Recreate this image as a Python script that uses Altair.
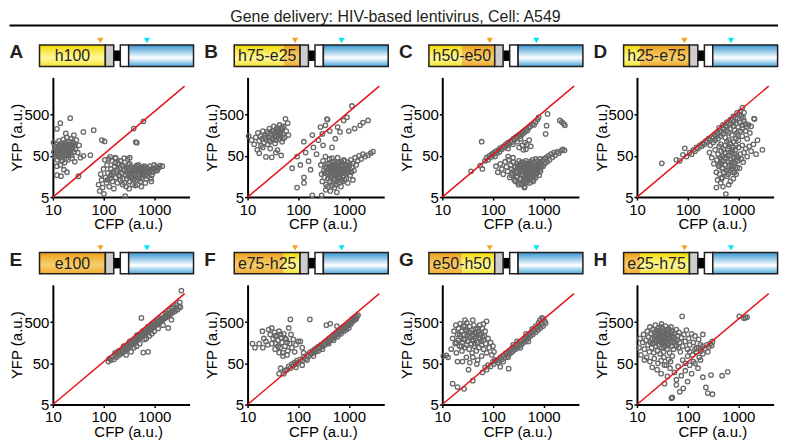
import altair as alt
import pandas as pd

TITLE = "Gene delivery: HIV-based lentivirus, Cell: A549"
letters = ["A", "B", "C", "D", "E", "F", "G", "H"]
constructs = ["h100", "h75-e25", "h50-e50", "h25-e75", "e100", "e75-h25", "e50-h50", "e25-h75"]
x_ticks = [10, 100, 1000]
y_ticks = [5, 50, 500]
line_x = [10, 4000]
line_y = [5, 2450]

A_pts = [[10.3,105],[10.5,62],[11,48],[11,85],[11.5,72],[11.8,55],[12,95],[12.2,40],[12.5,66],[12.8,80],[13,52],[13.2,115],[13.5,70],[13.8,45],[14,88],[14.2,60],[14.5,100],[14.8,75],[15,54],[15.3,38],[15.6,82],[16,65],[16.2,125],[16.5,92],[16.8,50],[17,72],[17.4,105],[17.8,60],[18,85],[18.4,44],[18.8,140],[19,68],[19.5,96],[20,78],[20.5,56],[21,112],[21.5,86],[22,66],[22.5,130],[23,95],[23.5,52],[24,76],[25,108],[26,62],[26.5,88],[28,72],[29,120],[31,60],[33,90],[14,30],[12,28],[17,34],[20,40],[24,44],[27,36],
         [13,58],[15,68],[16.5,78],[18.5,52],[19.5,84],[21,70],[22.5,60],[24.5,90],[15.5,47],[17.5,90],[12.5,50],[20,64],[23,82],[26,100],[13.5,88],
         [12,225],[14,310],[22,410],[40,190],[64,210],[93,120],[105,112],[55,52],[40,50],[32,16],[12,17],[14.5,16],[16.5,23],[19,20],[35,45],[26,160],[18,175],
         [80,10],[84,7],[88,18],[92,13],[96,8.5],[100,24],[102,6],[106,40],[110,15],[115,11],[118,30],[122,19],[126,42],[130,9],[135,14],[140,24],[145,38],[150,12],[155,18],[160,8],[165,28],[170,45],[175,15],[180,21],[188,11],[195,33],[200,17],[208,25],[215,13],[222,38],[230,19],[238,14],[245,28],[252,22],[260,11],[268,5.3],[275,17],[282,26],[290,14],[298,20],[305,31],[312,16],[320,23],[330,12],[338,19],[345,27],[355,15],[365,21],[375,10],[385,18],[395,25],[405,14],[418,22],[430,17],[445,29],[458,13],[470,20],[485,24],[500,16],[515,22],[530,12],[545,19],[560,27],[580,15],[600,21],[620,18],[645,24],[670,11],[690,20],[715,26],[740,16],[770,22],[800,19],[830,28],[860,14],[900,24],[950,20],[1000,30],[1050,22],[1100,27],[1180,25],[1300,29],[1450,28],[880,12],[560,9],[420,9.5],
         [210,16],[260,24],[310,18],[360,26],[410,19],[460,27],[510,14],[560,21],[610,25],[660,17],[710,22],[760,20],[820,23],[150,20],[190,23],[240,10],[280,9],[330,32],[380,13],[430,24],[490,30],[540,24],[590,17],[640,28],[700,14],[900,17],[1000,24],[1150,22],[1250,26],[120,13],[140,17],[170,33],[230,30],[320,8],[470,10],
         [395,230],[615,345],[455,104],[432,108],[135,47],[175,44],[255,44],[300,42],[215,38],[330,45]]

B_pts = [[10.5,150],[12,120],[13.5,95],[14.5,140],[15.5,70],[16,180],[17,115],[18,150],[18.5,88],[19.5,130],[20,200],[21,105],[22,160],[23,125],[23,47],[24,190],[25,95],[26,140],[27,230],[28,110],[29,170],[30,46],[31,130],[32,200],[33,260],[34,150],[35,100],[36,180],[37,120],[38,240],[39,69],[40,160],[41,210],[42,130],[43,280],[44,190],[45,150],[46,51],[47,230],[48,110],[50,170],[52,260],[54,140],[56,395],[58,200],[62,310],[64,160],[36,60],[28,75],[20,80],[17,58],
         [25,170],[30,200],[35,140],[40,220],[45,180],[50,130],[33,175],[38,150],[42,190],[48,250],[27,120],[22,140],
         [129,110],[95,48],[76,25],[160,37],[175,23],[275,250],[345,275],[370,390],[380,380],[790,360],[920,430],[1150,810],[1670,275],[2400,360],[670,190],[540,130],[465,80],[345,48],[465,44],[200,80],[230,55],[250,120],[300,170],[310,90],[420,200],[600,250],[1000,200],[1300,230],[1900,320],[140,60],[110,30],[190,160],
         [280,30],[290,18],[300,12],[310,38],[320,22],[330,15],[345,27],[355,10],[365,20],[375,32],[385,14],[395,24],[405,17],[415,42],[425,12],[435,28],[445,20],[455,15],[465,35],[475,22],[485,11],[495,18],[505,26],[515,14],[525,31],[540,20],[555,16],[570,24],[585,12],[600,29],[615,19],[630,22],[645,14],[660,33],[675,18],[690,25],[710,13],[730,21],[750,28],[770,16],[790,38],[815,23],[840,19],[865,30],[890,14],[920,25],[950,35],[985,20],[1020,28],[1060,17],[1100,40],[1150,26],[1200,33],[1260,22],[1330,45],[1400,30],[1500,38],[1600,50],[1750,42],[1900,55],[2100,48],[2400,52],[2700,58],[3000,63],[95,8.5],[130,15],[130,11],[190,5.5],[290,5.5],[430,7],[580,6.5],[520,8.5],[350,7.5],[700,9],[800,40],[600,45],[1200,13],[950,11],
         [400,20],[450,26],[500,22],[550,28],[600,18],[650,24],[700,20],[750,16],[800,25],[850,21],[900,19],[430,16],[480,29],[530,13],[580,19],[620,27],[680,15],[720,30],[780,22],[830,13],[880,28],[960,24],[1040,32],[1120,20],[360,25],[330,19],[410,33],[510,36],[610,34],[710,36],[560,10],[640,11],[760,12],[470,9.5],[380,9]]

C_pts = [[37,21],[56,29],[62,24],[60,110],[70,38],[75,45],[80,40],[85,50],[90,46],[95,55],[100,52],[105,60],[110,48],[115,65],[120,58],[130,70],[135,62],[140,78],[150,72],[160,85],[170,80],[180,95],[190,88],[200,105],[210,98],[225,115],[240,108],[255,130],[270,122],[285,145],[300,138],[320,160],[340,150],[360,175],[380,168],[400,195],[420,185],[450,215],[480,205],[510,240],[550,260],[600,290],[650,280],[700,330],[760,380],[800,430],[300,110],[250,95],[350,130],[200,75],
         [330,80],[380,90],[430,105],[470,95],[520,120],[560,85],[450,72],[400,70],
         [1200,520],[1150,270],[2100,360],[2300,330],[2500,300],[2650,275],[1100,170],
         [115,28],[125,20],[140,32],[150,24],[160,18],[175,36],[185,27],[195,21],[205,40],[215,15],[225,30],[235,24],[245,19],[255,35],[265,13],[275,27],[285,21],[295,32],[305,16],[315,25],[325,11],[335,29],[345,20],[355,14],[365,34],[375,23],[385,17],[395,28],[405,12],[415,22],[425,9],[435,31],[445,18],[455,26],[465,14],[475,21],[485,33],[495,16],[505,24],[515,19],[530,11],[545,28],[560,15],[575,22],[590,30],[605,17],[620,25],[640,13],[660,21],[680,28],[700,18],[720,24],[745,31],[770,20],[800,27],[830,35],[860,24],[900,30],[940,38],[980,28],[1020,42],[1070,33],[1120,45],[1180,36],[1250,50],[1320,40],[1400,55],[1500,46],[1600,60],[1700,52],[1850,62],[2000,58],[2200,66],[2400,72],[2600,68],[420,8.5],[380,10],[470,11.5],[330,38],[250,45],[200,48],[600,40],[700,42],
         [230,17],[260,22],[290,15],[310,28],[340,24],[360,18],[390,21],[410,26],[440,14],[460,23],[480,19],[510,29],[540,17],[570,26],[610,20],[650,16],[690,23],[730,19],[780,26],[820,17],[870,21],[920,27],[300,20],[350,31],[400,35],[450,38],[500,33],[550,36],[650,34],[750,37],[850,42],[280,12],[320,10],[360,11],[400,14],[480,12.5],[560,13],[620,12],[700,15],[480,27],[420,31],[520,14.5]]

D_pts = [[31,33],[60,40],[70,38],[81,53],[88,76],[95,48],[110,60],[120,55],[130,70],[140,65],[150,80],[160,75],[175,90],[190,85],[200,100],[215,95],[230,115],[245,108],[260,130],[280,120],[300,145],[320,135],[340,165],[360,150],[380,185],[400,170],[430,205],[460,190],[490,240],[520,220],[560,270],[600,250],[650,310],[700,290],[760,360],[820,340],[900,420],[980,400],[1050,500],[1150,460],[1210,740],[1100,600],[950,550],[800,450],[700,380],[1300,560],[1250,420],[600,330],[500,280],[420,240],
         [280,90],[320,105],[350,120],[400,130],[450,150],[500,170],[550,140],[600,200],[650,180],[700,230],[750,160],[800,260],[850,210],[900,300],[950,180],[1000,250],[1100,320],[1200,280],[1300,350],[1400,300],[1500,250],[1600,280],[1800,260],[2050,400],[2100,390],[2400,120],[3000,70],[1700,180],[1400,200],[1200,150],[1000,120],[800,110],[900,90],[1500,130],[650,120],
         [270,60],[300,45],[330,32],[350,70],[370,20],[380,40],[390,13],[400,55],[410,28],[420,85],[430,18],[440,45],[450,33],[460,65],[470,14],[480,25],[490,50],[500,38],[520,20],[540,60],[560,30],[570,5.9],[580,44],[600,16],[620,75],[640,35],[660,22],[680,52],[700,12],[720,40],[740,28],[760,62],[790,20],[820,45],[850,32],[880,70],[910,18],[940,50],[980,38],[1020,80],[1060,25],[1100,55],[1150,42],[1200,90],[1250,35],[1300,60],[1400,75],[1500,48],[1650,85],[1800,65],[2000,95],[2250,55],[370,8.5],[500,9],[650,10],[450,11],[800,14],
         [420,30],[460,40],[500,25],[540,45],[580,22],[620,50],[660,30],[700,60],[740,24],[780,35],[820,28],[860,55],[900,40],[950,26],[1000,45],[520,70],[560,90],[600,110],[700,100],[800,80],[900,130],[1000,160],[1100,200],[1200,230],[750,70],[650,85],[450,95],[480,15],[630,18],[850,20]]

E_pts = [[125,55],[130,65],[140,60],[150,72],[160,62],[170,80],[180,70],[190,88],[200,78],[210,95],[220,85],[230,105],[240,92],[250,110],[260,98],[270,120],[280,105],[290,130],[300,115],[310,140],[320,125],[335,150],[350,135],[365,160],[380,145],[395,175],[410,155],[425,190],[440,170],[455,205],[470,180],[485,220],[500,195],[520,240],[540,210],[560,255],[580,225],[600,270],[620,240],[645,290],[670,255],[700,310],[720,275],[750,330],[780,300],[810,360],[840,320],[870,390],[900,350],[940,420],[980,380],[1020,450],[1060,410],[1100,480],[1150,440],[1200,520],[1250,470],[1300,560],[1350,510],[1400,600],[1460,550],[1520,640],[1580,600],[1650,700],[1720,650],[1800,760],[1880,700],[1960,820],[2050,760],[2150,880],[2250,830],[2400,950],[2550,900],[2700,1050],[2900,1000],[3100,1200],[3300,1150],[3450,2900],[3200,1500],[2800,1300],[2500,1150],[610,91],[760,95],[2200,570],[1900,360],[560,630],[450,130],[520,150],[650,190],[800,230],[1000,300],[1200,350],[350,95],[280,80],[1500,420],[900,260],[400,120],[700,200],[1100,520],[1300,620],[1700,800],[2000,950],[2300,1100],[600,300],[750,380],[900,450],[460,240],[330,170],[250,130],[200,100],[170,90],
         [420,160],[480,190],[540,235],[600,250],[660,275],[720,300],[790,330],[860,365],[950,395],[1050,440],[1150,490],[1250,540],[1400,570],[1600,650],[1850,740]]

F_pts = [[42,28],[52,28],[55,33],[45,38],[60,35],[65,42],[70,38],[75,48],[80,44],[85,52],[90,48],[95,58],[100,52],[110,62],[120,58],[130,72],[140,65],[150,80],[160,74],[170,92],[180,84],[190,100],[200,90],[215,112],[230,102],[245,125],[260,115],[280,140],[300,128],[320,155],[340,142],[360,175],[380,160],[400,195],[425,180],[450,220],[475,200],[500,245],[530,225],[560,270],[590,250],[620,300],[650,280],[690,330],[730,310],[770,370],[810,345],[850,400],[900,380],[950,440],[1000,420],[1050,480],[1100,450],[1200,520],[1300,560],[1400,600],[1520,740],[1450,680],[1350,650],[1250,620],[1150,580],[500,180],[400,150],[300,110],[200,75],[600,220],[700,260],[800,300],[900,330],[1000,360],[120,45],[90,40],[150,60],[250,100],[360,420],[430,460],[580,400],[170,580],
         [220,95],[270,120],[330,140],[390,170],[460,195],[540,240],[620,270],[700,300],[790,350],[880,390],[980,430],[1100,500],
         [12.5,150],[14,120],[17,150],[19.6,300],[21,200],[23,170],[26,330],[28,250],[30,360],[32,200],[34,280],[36,150],[38,230],[40,180],[42,300],[44,120],[46,210],[48,160],[50,90],[52,260],[55,130],[58,190],[62,100],[65,360],[68,150],[70,580],[72,250],[75,120],[80,190],[85,95],[90,140],[100,170],[110,170],[120,120],[128,90],[42,91],[50,75],[60,80],[35,110],[25,140],
         [20,120],[30,150],[40,130],[55,200],[45,250],[35,230],[60,160]]

G_pts = [[10.5,75],[12,78],[13,70],[15,110],[16,200],[17,300],[18,150],[18.5,420],[19,90],[20,250],[20.5,180],[21,350],[22,130],[22.5,460],[23,220],[24,300],[24.5,100],[25,160],[26,400],[27,250],[27.5,120],[28,190],[29,330],[30,140],[30.5,480],[31,240],[32,170],[33,280],[34,110],[35,390],[36,210],[37,150],[38,320],[39,90],[40,250],[41,180],[42,420],[43,130],[44,280],[45,200],[46,340],[47,100],[48,230],[50,160],[52,300],[53,120],[55,420],[56,200],[58,260],[60,140],[62,350],[64,180],[66,110],[68,230],[70,300],[72,150],[75,90],[80,200],[85,120],[90,160],[95,80],[100,130],[105,95],[110,60],[60,75],[50,60],[40,70],[30,70],[25,55],[20,55],[35,52],[48,48],[65,450],[75,520],[28,560],[40,560],
         [22,250],[26,190],[30,300],[34,230],[38,180],[44,150],[50,350],[54,250],[58,170],[62,220],[19,160],[24,130],[28,400],[36,280],[46,260],
         [16,16],[20,13.3],[27,12],[40,19],[33,35],
         [62,30],[70,40],[75,35],[80,45],[90,42],[100,55],[105,48],[115,60],[125,52],[140,41],[140,70],[150,62],[160,78],[170,68],[180,88],[190,76],[200,95],[205,37],[210,84],[220,105],[230,92],[240,115],[250,100],[265,125],[280,110],[295,140],[310,120],[325,155],[340,135],[360,170],[380,150],[400,190],[420,165],[440,210],[460,185],[480,235],[500,205],[530,260],[560,230],[590,290],[620,255],[660,320],[700,285],[740,360],[780,320],[820,400],[870,360],[930,450],[980,400],[1050,520],[1100,470],[930,630],[850,560],[1000,600],[700,400],[600,340],[800,480],[450,260],[300,170],[250,140],[130,58],[160,55],[200,70],[350,120],[500,170]]

H_pts = [[11,120],[11.5,200],[12,80],[13,160],[13.5,250],[14,110],[15,180],[15.5,70],[16,300],[16.5,140],[17,220],[17.5,95],[18,380],[18.5,160],[19,260],[19.5,120],[20,200],[20.5,330],[21,150],[21.5,90],[22,280],[22.5,180],[23,420],[23.5,130],[24,240],[24.5,310],[25,170],[25.5,100],[26,210],[26.5,360],[27,140],[27.5,270],[28,190],[28.5,85],[29,320],[29.5,230],[30,160],[30.5,450],[31,120],[31.5,260],[32,200],[32.5,350],[33,150],[33.5,95],[34,290],[35,180],[35.5,230],[36,130],[36.5,400],[37,210],[38,160],[38.5,310],[39,110],[40,250],[41,190],[42,140],[42.5,340],[43,220],[44,90],[45,280],[46,170],[47,380],[48,130],[49,230],[50,300],[52,160],[53,110],[54,260],[56,200],[58,140],[60,330],[62,180],[64,230],[66,120],[68,280],[70,160],[72,95],[75,210],[78,690],[80,130],[85,250],[90,170],[95,320],[100,110],[105,200],[110,140],[120,260],[130,160],[140,230],[150,120],[165,190],[180,140],[200,250],[14,60],[18,55],[22,65],[26,50],[30,58],[34,70],[38,45],[42,62],[46,55],[50,75],
         [20,150],[24,180],[28,230],[32,170],[36,260],[40,150],[44,200],[48,300],[52,220],[56,160],[30,380],[26,290],[22,220],[40,330],[34,120],
         [20,40],[25,35],[30,28],[35,45],[40,24],[45,38],[48,7.1],[50,7.5],[55,30],[60,20],[65,42],[70,10.2],[75,25],[82,12.3],[90,33],[100,18],[110,45],[120,28],[140,50],[160,38],[180,60],[200,23],[230,13],[250,9.5],[290,26],[310,8.9],[480,25],[620,31],[35,16],[60,15],
         [60,130],[80,60],[100,75],[110,95],[125,80],[140,110],[150,95],[165,120],[180,100],[200,130],[220,115],[240,140],[260,125],[280,150],[300,135],[310,170],[250,95],[200,85],[170,70],[1050,690],[1300,620],[1400,640],[1500,660],[130,55],[90,50]]

panel_pts = [A_pts, B_pts, C_pts, D_pts, E_pts, F_pts, G_pts, H_pts]

FONT = "Liberation Sans"
INK = "#231f20"
W, H = 137, 120
# schematic vertical placement, pixels relative to the plot top
OFF = -40
BOX_Y0, BOX_Y1 = OFF + 7.5, OFF + 29
LINK_Y0, LINK_Y1 = OFF + 13, OFF + 23.5
TRI_Y = OFF + 3
LETTER_Y = OFF + 15

# construct schematic layout (construct units)
BOX_END = 66
GREY = (66, 74.4)
LINK = (74.4, 81)
WHITE = (81, 89.4)
BLUE = (89.4, 154.4)
TRI_ORANGE = 61
TRI_CYAN = 107.7
dscale = alt.Scale(domain=[0, 154.4], range=[-13.4, 141])


def grad(stops):
    return alt.Gradient(gradient="linear", x1=0, x2=0, y1=0, y2=1,
                        stops=[alt.GradientStop(offset=o, color=c) for o, c in stops])

YELLOW = grad([(0, "#f2da00"), (0.6, "#fff79e"), (1, "#f6e332")])
ORANGE = grad([(0, "#eda01a"), (0.6, "#f8cf6e"), (1, "#eeab2e")])
BLUEG = grad([(0, "#3595d1"), (0.6, "#ffffff"), (1, "#47a5db")])


def segs(name):
    parts = name.split("-")
    first = "y" if parts[0][0] == "h" else "o"
    pct = int(parts[0][1:])
    cut = BOX_END * pct / 100.0
    out = {"y": [], "o": []}
    out[first].append((0, cut))
    if pct < 100:
        out["o" if first == "y" else "y"].append((cut, BOX_END))
    return out


def rect_layer(a, b, y0, y1, **kw):
    df = pd.DataFrame({"a": [a], "b": [b]})
    return alt.Chart(df).mark_rect(**kw).encode(
        x=alt.X("a:Q", scale=dscale, axis=None), x2="b:Q",
        y=alt.value(y0), y2=alt.value(y1))


def diagram_layers(letter, name):
    layers = []
    s = segs(name)
    for a, b in s["y"]:
        layers.append(rect_layer(a, b, BOX_Y0, BOX_Y1, fill=YELLOW, strokeWidth=0))
    for a, b in s["o"]:
        layers.append(rect_layer(a, b, BOX_Y0, BOX_Y1, fill=ORANGE, strokeWidth=0))
    layers.append(rect_layer(0, BOX_END, BOX_Y0, BOX_Y1, fillOpacity=0, stroke=INK, strokeWidth=1.5))
    layers.append(rect_layer(LINK[0], LINK[1], LINK_Y0, LINK_Y1, fill="black", strokeWidth=0))
    layers.append(rect_layer(GREY[0], GREY[1], BOX_Y0, BOX_Y1, fill="#cdcdcd", stroke=INK, strokeWidth=1.5))
    layers.append(rect_layer(WHITE[0], WHITE[1], BOX_Y0, BOX_Y1, fill="white", stroke=INK, strokeWidth=1.5))
    layers.append(rect_layer(BLUE[0], BLUE[1], BOX_Y0, BOX_Y1, fill=BLUEG, stroke=INK, strokeWidth=1.5))
    tdf = pd.DataFrame({"c": [BOX_END / 2], "t": [name]})
    layers.append(alt.Chart(tdf).mark_text(font=FONT, fontSize=16, color=INK, baseline="middle").encode(
        x=alt.X("c:Q", scale=dscale, axis=None), y=alt.value((BOX_Y0 + BOX_Y1) / 2 + 0.5), text="t:N"))
    for pos, col in [(TRI_ORANGE, "#f5a31e"), (TRI_CYAN, "#00e5f0")]:
        pdf = pd.DataFrame({"p": [pos]})
        layers.append(alt.Chart(pdf).mark_point(shape="triangle-down", filled=True, color=col, size=38, opacity=1).encode(
            x=alt.X("p:Q", scale=dscale, axis=None), y=alt.value(TRI_Y)))
    ldf = pd.DataFrame({"l": [letter]})
    layers.append(alt.Chart(ldf).mark_text(font=FONT, fontSize=19, fontWeight="bold", color=INK, align="left").encode(
        x=alt.value(-43.5), y=alt.value(LETTER_Y), text="l:N"))
    return layers


def scatter_layers(pts):
    df = pd.DataFrame(pts, columns=["CFP", "YFP"])
    xs = alt.Scale(type="log", domain=[10, 5000], nice=False)
    ys = alt.Scale(type="log", domain=[5, 4000], nice=False)
    xa = alt.Axis(values=x_ticks, format="d", title="CFP (a.u.)", labelFlush=False, labelOverlap=False,
                  titleX=W / 2 + 7, titleY=20, titleBaseline="top", titleAlign="center",
                  tickSize=3, labelPadding=2, grid=False)
    ya = alt.Axis(values=y_ticks, format="d", title="YFP (a.u.)", labelOverlap=False, labelFlush=False,
                  titleX=-36, titleY=H / 2, titleAngle=270, titleBaseline="middle", titleAlign="center",
                  tickSize=3, labelPadding=1, grid=False)
    pts_layer = alt.Chart(df).mark_point(shape="circle", filled=False, color="#686868", size=20,
                                         strokeWidth=1.3, opacity=1).encode(
        x=alt.X("CFP:Q", scale=xs, axis=xa), y=alt.Y("YFP:Q", scale=ys, axis=ya))
    ldf = pd.DataFrame({"CFP": line_x, "YFP": line_y})
    line = alt.Chart(ldf).mark_line(color="#e8141c", strokeWidth=1.5).encode(
        x=alt.X("CFP:Q", scale=xs, axis=None), y=alt.Y("YFP:Q", scale=ys))
    return [pts_layer, line]


def header_layers():
    tdf = pd.DataFrame({"t": [TITLE]})
    title_text = alt.Chart(tdf).mark_text(font=FONT, fontSize=16, color=INK, baseline="top", align="center").encode(
        x=alt.value(343.5), y=alt.value(-69), text="t:N")
    title_rule = alt.Chart(tdf).mark_rule(color="black", strokeWidth=2).encode(
        x=alt.value(-43.5), x2=alt.value(727), y=alt.value(-52))
    return [title_text, title_rule]


def panel(i):
    layers = scatter_layers(panel_pts[i]) + diagram_layers(letters[i], constructs[i])
    if i == 0:
        layers += header_layers()
    return alt.layer(*layers).resolve_scale(x="independent").properties(width=W, height=H)


chart = alt.concat(*[panel(i) for i in range(8)], columns=4,
                   spacing={"row": 88, "column": 58.2}, bounds="flush").properties(
    padding=0).configure_view(stroke=None).configure_axis(
    domainColor="black", domainWidth=2, tickColor="black", tickWidth=1.5,
    labelFont=FONT, labelFontSize=15, labelColor="black",
    titleFont=FONT, titleFontSize=15, titleFontWeight="normal", titleColor="black")

chart.save("out.html", embed_options={"renderer": "svg", "actions": False})
